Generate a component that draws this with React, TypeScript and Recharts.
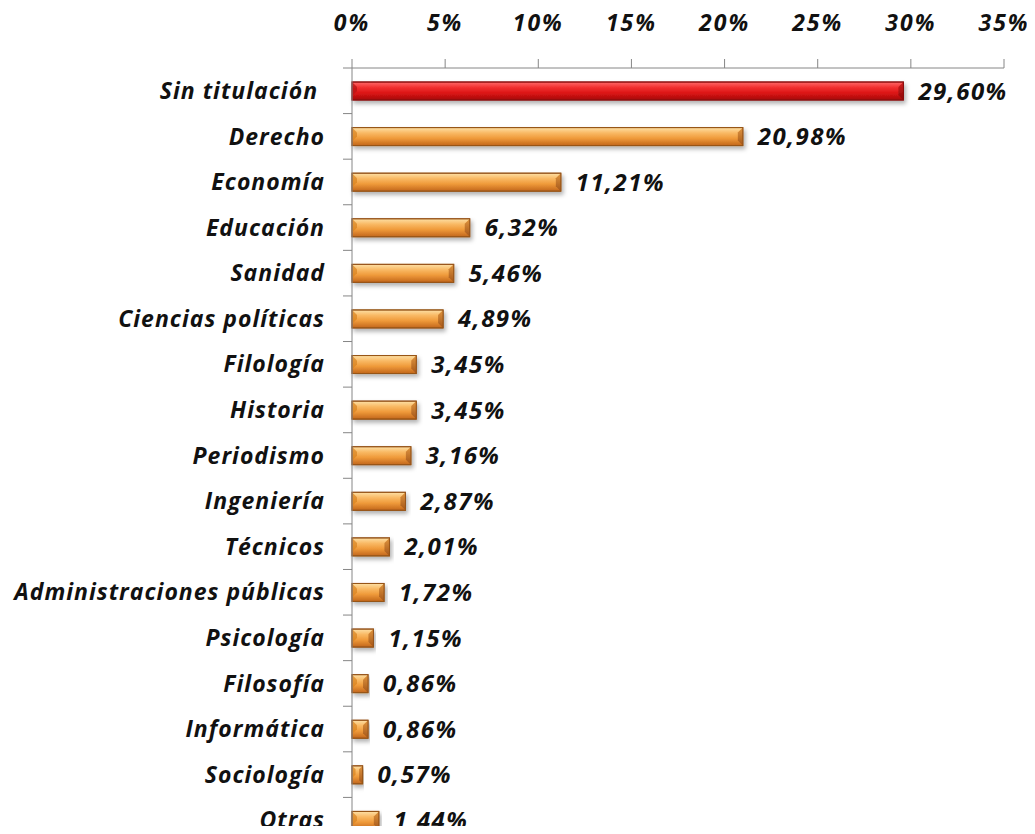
import React from 'react';
import { BarChart, Bar, XAxis, YAxis, Cell, LabelList } from 'recharts';

const categories = [
  'Sin titulación\u00A0',
  'Derecho',
  'Economía',
  'Educación',
  'Sanidad',
  'Ciencias políticas',
  'Filología',
  'Historia',
  'Periodismo',
  'Ingeniería',
  'Técnicos',
  'Administraciones públicas',
  'Psicología',
  'Filosofía',
  'Informática',
  'Sociología',
  'Otras',
];

const shares = [29.6, 20.98, 11.21, 6.32, 5.46, 4.89, 3.45, 3.45, 3.16, 2.87, 2.01, 1.72, 1.15, 0.86, 0.86, 0.57, 1.44];

const xTicks = [0, 5, 10, 15, 20, 25, 30, 35];

const data = categories.map((name, i) => ({ name, value: shares[i] }));

const FONT = '"Open Sans", "DejaVu Sans", sans-serif';
const TEXT_COLOR = '#111111';
const AXIS_COLOR = '#868686';
const TICK_LEN = 9;
const CAT_MARGIN = 18;

const fmtPct = (v: number) => v.toFixed(2).replace('.', ',') + '%';

function CategoryTick(props: any) {
  const { x, y, payload, height, visibleTicksCount, index } = props;
  const count = visibleTicksCount || categories.length;
  const band = height / count;
  const axisX = x + CAT_MARGIN + TICK_LEN;
  return (
    <g>
      <line x1={axisX - TICK_LEN} x2={axisX} y1={y - band / 2} y2={y - band / 2} stroke={AXIS_COLOR} strokeWidth={1} />
      {index === count - 1 && (
        <line x1={axisX - TICK_LEN} x2={axisX} y1={y + band / 2} y2={y + band / 2} stroke={AXIS_COLOR} strokeWidth={1} />
      )}
      <text
        x={x}
        y={y}
        dy="0.355em"
        textAnchor="end"
        fill={TEXT_COLOR}
        fontSize={23}
        fontStyle="italic"
        fontWeight={700}
        fontFamily={FONT}
        letterSpacing={1}
      >
        {payload.value}
      </text>
    </g>
  );
}

function BevelBar(props: any) {
  const { x, y, width, height, index } = props;
  if (!width || width <= 0) return null;
  const red = index === 0;
  const body = red ? 'url(#gRed)' : 'url(#gOrange)';
  const endFill = red ? 'url(#gRedEnd)' : 'url(#gOrangeEnd)';
  const stroke = red ? '#8c0d0d' : '#97551a';
  const bev = Math.min(5, width / 3);
  return (
    <g filter="url(#barShadow)">
      <rect x={x} y={y} width={width} height={height} fill={body} stroke={stroke} strokeWidth={1} />
      <polygon
        points={`${x + width - bev},${y + bev} ${x + width},${y} ${x + width},${y + height} ${x + width - bev},${y + height - bev}`}
        fill={endFill}
      />
      <polygon
        points={`${x},${y} ${x + bev},${y + bev} ${x + bev},${y + height / 2} ${x},${y + height / 2 + bev}`}
        fill={red ? '#b51212' : '#d9831f'}
        opacity={0.7}
      />
      <rect x={x} y={y} width={width} height={height} fill="none" stroke={stroke} strokeWidth={1} />
    </g>
  );
}

export default function App() {
  return (
    <div style={{ margin: -8, width: 1035, height: 834, overflow: 'hidden', background: '#fff' }}>
      <BarChart
        width={1035}
        height={855}
        data={data}
        layout="vertical"
        margin={{ top: 0, right: 31, bottom: 12, left: 0 }}
      >
        <defs>
          <linearGradient id="gOrange" x1="0" y1="0" x2="0" y2="1">
            <stop offset="0" stopColor="#fde0a6" />
            <stop offset="0.3" stopColor="#f9b964" />
            <stop offset="0.6" stopColor="#ef9a3a" />
            <stop offset="1" stopColor="#c2661b" />
          </linearGradient>
          <linearGradient id="gOrangeEnd" x1="0" y1="0" x2="0" y2="1">
            <stop offset="0" stopColor="#e0953e" />
            <stop offset="1" stopColor="#a4561a" />
          </linearGradient>
          <linearGradient id="gRed" x1="0" y1="0" x2="0" y2="1">
            <stop offset="0" stopColor="#ff6a6a" />
            <stop offset="0.3" stopColor="#f23030" />
            <stop offset="0.65" stopColor="#d81414" />
            <stop offset="1" stopColor="#a30a0a" />
          </linearGradient>
          <linearGradient id="gRedEnd" x1="0" y1="0" x2="0" y2="1">
            <stop offset="0" stopColor="#d22020" />
            <stop offset="1" stopColor="#8a0808" />
          </linearGradient>
          <filter id="barShadow" x="-5%" y="-30%" width="115%" height="180%">
            <feDropShadow dx="2" dy="3" stdDeviation="2" floodColor="#000" floodOpacity="0.3" />
          </filter>
        </defs>
        <XAxis
          type="number"
          orientation="top"
          domain={[0, 35]}
          ticks={xTicks}
          interval={0}
          height={68}
          tickFormatter={(v: number) => `${v}%`}
          tickSize={TICK_LEN}
          tickMargin={28}
          axisLine={{ stroke: AXIS_COLOR }}
          tickLine={{ stroke: AXIS_COLOR }}
          tick={{ fill: TEXT_COLOR, fontSize: 23, fontStyle: 'italic', fontWeight: 700, fontFamily: FONT, letterSpacing: 2 }}
        />
        <YAxis
          type="category"
          dataKey="name"
          width={352}
          interval={0}
          tickSize={TICK_LEN}
          tickMargin={CAT_MARGIN}
          axisLine={{ stroke: AXIS_COLOR }}
          tickLine={false}
          tick={<CategoryTick />}
        />
        <Bar dataKey="value" barSize={18} isAnimationActive={false} shape={<BevelBar />}>
          {data.map((d, i) => (
            <Cell key={d.name} fill={i === 0 ? '#e01818' : '#f0a040'} />
          ))}
          <LabelList
            dataKey="value"
            position="right"
            offset={15}
            formatter={(v: any) => fmtPct(Number(v))}
            style={{ fill: TEXT_COLOR, fontSize: 24, fontStyle: 'italic', fontWeight: 700, fontFamily: FONT, letterSpacing: 1.5 }}
          />
        </Bar>
      </BarChart>
    </div>
  );
}
